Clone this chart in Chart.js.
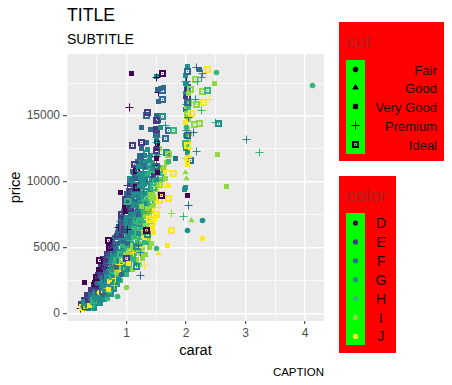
<!DOCTYPE html>
<html>
<head>
<meta charset="utf-8">
<script src="https://cdn.jsdelivr.net/npm/chart.js@4/dist/chart.umd.min.js"></script>
<style>
html, body { margin: 0; padding: 0; background: #fff; }
canvas { display: block; }
</style>
</head>
<body>
<canvas id="diamondChart" width="452" height="385"></canvas>
<script>
const cutLabels = ['Fair', 'Good', 'Very Good', 'Premium', 'Ideal'];
const colorLabels = ['D', 'E', 'F', 'G', 'H', 'I', 'J'];
const xTickLabels = ['1', '2', '3', '4'];
const yTickLabels = ['0', '5000', '10000', '15000'];
const yBreaks = [0, 2500, 5000, 7500, 10000, 12500, 15000, 17500];

// the packed body of the cloud, all Very Good squares, drawn first
const bodyCarats = [
    .24, .31, .36, .43, .47,
    .22, .29, .37, .42, .51, .56,
    .27, .35, .40, .49, .54, .63, .68,
    .33, .39, .48, .53, .62, .67, .74,
    .40, .47, .52, .61, .66, .75, .80,
    .44, .50, .59, .64, .73, .78, .85,
    .48, .56, .61, .70, .75, .84, .90,
    .51, .57, .66, .71, .80, .85, .94, 1.00,
    .54, .62, .67, .76, .81, .90, .95, 1.04, 1.10,
    .57, .63, .72, .77, .86, .91, 1.00, 1.05, 1.15, 1.22,
    .60, .68, .73, .82, .87, .96, 1.01, 1.10, 1.16, 1.27,
    .66, .72, .81, .86, .95, 1.00, 1.09, 1.14, 1.24, 1.32,
    .71, .79, .84, .93, .98, 1.07, 1.12, 1.21, 1.27, 1.38,
    .75, .81, .90, .95, 1.04, 1.09, 1.18, 1.23, 1.33, 1.42,
    .80, .88, .93, 1.02, 1.07, 1.16, 1.21, 1.31, 1.37, 1.46,
    .85, .91, 1.00, 1.05, 1.14, 1.19, 1.28, 1.34, 1.43,
    .87, .95, 1.00, 1.09, 1.14, 1.23, 1.28, 1.38, 1.45,
    .90, .96, 1.05, 1.10, 1.19, 1.24, 1.34, 1.40, 1.49,
    .93, 1.01, 1.06, 1.15, 1.20, 1.29, 1.35, 1.44,
    .95, 1.01, 1.10, 1.15, 1.24, 1.29, 1.39, 1.46,
    .97, 1.05, 1.10, 1.19, 1.24, 1.33, 1.39, 1.50,
    1.00, 1.06, 1.15, 1.20, 1.29, 1.35, 1.44,
    1.02, 1.10, 1.15, 1.24, 1.29, 1.39, 1.50,
    1.04, 1.11, 1.21, 1.27, 1.37, 1.50, 1.58,
    1.06, 1.14, 1.22, 1.30, 1.40, 1.50, 1.60,
    1.08, 1.16, 1.24, 1.32, 1.42, 1.52, 1.62,
    1.12, 1.20, 1.28, 1.36, 1.45, 1.53, 1.64,
    1.15, 1.22, 1.30, 1.38, 1.50, 1.60, 1.68,
    1.18, 1.26, 1.34, 1.44, 1.52,
    1.22, 1.30, 1.40, 1.51, 1.55,
    1.26, 1.35, 1.50, 1.52,
    1.33, 1.50, 1.52,
    1.50, 1.51, 1.40,
    1.50, 1.51,
    // the column at two carats
    2.00, 2.01, 2.00, 2.02, 2.00, 2.01, 2.00, 2.02, 2.00, 2.01, 2.00, 2.02, 2.01,
    2.05, 2.06, 2.05, 2.07
];
const bodyPrices = [
    400, 430, 380, 420, 390,
    750, 780, 720, 770, 730, 760,
    1100, 1070, 1130, 1080, 1120, 1070, 1110,
    1450, 1480, 1430, 1470, 1420, 1460, 1440,
    1800, 1770, 1830, 1780, 1820, 1760, 1810,
    2200, 2170, 2230, 2180, 2220, 2160, 2210,
    2550, 2590, 2530, 2580, 2520, 2570, 2540,
    2950, 2920, 2980, 2930, 2970, 2910, 2960, 2940,
    3350, 3380, 3320, 3370, 3330, 3390, 3340, 3360, 3310,
    3750, 3720, 3780, 3730, 3770, 3710, 3760, 3740, 3790, 3700,
    4150, 4180, 4120, 4170, 4130, 4190, 4140, 4160, 4110, 4200,
    4550, 4520, 4580, 4530, 4570, 4510, 4560, 4540, 4590, 4500,
    4950, 4980, 4920, 4970, 4930, 4990, 4940, 4960, 4910, 5000,
    5350, 5320, 5380, 5330, 5370, 5310, 5360, 5340, 5390, 5300,
    5750, 5780, 5720, 5770, 5730, 5790, 5740, 5760, 5710,
    6150, 6120, 6180, 6130, 6170, 6110, 6160, 6140, 6190,
    6550, 6580, 6520, 6570, 6530, 6590, 6540, 6560, 6510,
    6950, 6920, 6980, 6930, 6970, 6910, 6960, 6940, 6990,
    7350, 7380, 7320, 7370, 7330, 7390, 7340, 7360,
    7750, 7720, 7780, 7730, 7770, 7710, 7760, 7740,
    8150, 8180, 8120, 8170, 8130, 8190, 8140, 8160,
    8550, 8520, 8580, 8530, 8570, 8510, 8560,
    8950, 8980, 8920, 8970, 8930, 8990, 8940,
    9400, 9370, 9430, 9380, 9420, 9360, 9410,
    9800, 9830, 9770, 9820, 9780, 9840, 9790,
    10200, 10170, 10230, 10180, 10220, 10160, 10210,
    10650, 10680, 10620, 10670, 10630, 10690, 10640,
    11100, 11070, 11130, 11080, 11120, 11060, 11110,
    11500, 11530, 11470, 11520, 11480,
    12000, 11970, 12030, 11980, 12020,
    12500, 12530, 12470, 12520,
    13000, 12970, 13030,
    13500, 13530, 13470,
    14000, 14030,
    // the column at two carats
    18000, 17500, 17000, 16500, 16000, 15500, 15000, 14500, 14000, 13500, 13000, 12500, 12000,
    15700, 14700, 13700, 12700
];
const bodyColors = [
    2, 3, 2, 3, 3,
    1, 2, 3, 2, 3, 3,
    1, 2, 3, 2, 3, 3, 4,
    1, 2, 3, 3, 2, 3, 3,
    1, 2, 2, 3, 3, 2, 3,
    0, 1, 2, 3, 2, 3, 3,
    1, 1, 2, 2, 3, 3, 4,
    1, 1, 2, 3, 3, 4, 3, 4,
    1, 1, 2, 3, 2, 3, 4, 3, 5,
    1, 1, 2, 2, 3, 3, 3, 4, 3, 5,
    1, 2, 2, 3, 3, 4, 3, 4, 5, 5,
    1, 1, 2, 2, 3, 3, 4, 4, 5, 5,
    1, 2, 2, 3, 3, 3, 4, 4, 5, 5,
    2, 2, 2, 3, 3, 3, 4, 5, 4, 5,
    2, 2, 3, 3, 3, 3, 4, 4, 5, 6,
    2, 2, 3, 3, 3, 4, 3, 5, 6,
    2, 2, 3, 3, 3, 4, 4, 5, 6,
    1, 2, 2, 3, 3, 3, 4, 5, 6,
    2, 2, 3, 3, 3, 4, 5, 6,
    2, 3, 2, 3, 3, 4, 4, 6,
    2, 2, 3, 3, 4, 4, 5, 6,
    2, 3, 3, 2, 4, 4, 5,
    2, 2, 3, 3, 4, 5, 6,
    2, 3, 3, 4, 4, 6, 6,
    1, 2, 3, 3, 4, 5, 5,
    2, 2, 3, 3, 4, 5, 6,
    2, 3, 3, 4, 4, 5, 5,
    2, 3, 3, 4, 5, 5, 5,
    2, 3, 3, 4, 5,
    2, 2, 3, 4, 5,
    2, 3, 0, 4,
    2, 1, 3,
    2, 3, 2,
    1, 3,
    // the column at two carats
    3, 3, 1, 5, 2, 5, 3, 6, 4, 5, 3, 6, 5,
    5, 5, 6, 5
];

// one row per line, the four arrays line up row by row
// cut: 0 Fair, 1 Good, 2 Very Good, 3 Premium, 4 Ideal / color: 0 D ... 6 J
const carats = [
    .23, .25, .26, .28, .30, .31, .30, .32, .33, .35,
    .27, .29, .31, .33, .34, .36, .38, .40, .41, .42,
    .30, .35, .37, .39, .43, .44, .45, .47, .48, .50,
    .46, .50, .52, .55, .58, .60, .62, .65, .68, .72,
    .45, .48, .52, .56, .60, .64, .68, .72, .76, .80,
    .50, .54, .58, .62, .66, .70, .74, .78, .82, .86,
    .56, .60, .64, .68, .72, .76, .80, .84, .88, .92,
    .60, .64, .68, .72, .76, .80, .84, .88, .92, .96,
    .65, .70, .74, .78, .82, .86, .90, .94, .98, 1.02,
    .70, .74, .78, .82, .86, .90, .94, .98, 1.04, 1.10,
    .72, .78, .82, .86, .90, .94, 1.00, 1.06, 1.12, 1.20,
    .76, .80, .84, .90, .95, 1.00, 1.05, 1.10, 1.16, 1.24,
    .84, .88, .92, .98, 1.02, 1.08, 1.12, 1.18, 1.24, 1.30,
    .86, .92, .96, 1.02, 1.06, 1.12, 1.18, 1.24, 1.30, 1.36,
    .90, .94, 1.00, 1.04, 1.10, 1.16, 1.22, 1.28, 1.34, 1.42,
    .92, .98, 1.04, 1.08, 1.14, 1.20, 1.26, 1.32, 1.38, 1.46,
    .96, 1.00, 1.06, 1.12, 1.18, 1.24, 1.30, 1.36, 1.42, 1.50,
    .98, 1.04, 1.10, 1.16, 1.22, 1.28, 1.34, 1.40, 1.46, 1.54,
    1.00, 1.06, 1.12, 1.18, 1.24, 1.30, 1.36, 1.42, 1.50, 1.56,
    1.02, 1.10, 1.16, 1.22, 1.28, 1.34, 1.40, 1.46, 1.52, 1.60,
    1.06, 1.14, 1.20, 1.26, 1.32, 1.38, 1.44, 1.50, 1.56, 1.64,
    1.10, 1.16, 1.22, 1.28, 1.34, 1.40, 1.46, 1.52, 1.58, 1.66,
    1.14, 1.20, 1.26, 1.32, 1.38, 1.44, 1.50, 1.56, 1.62, 1.68,
    1.50, 1.51, 1.52, 1.50, 1.51, 1.52, 1.53, 1.50, 1.51, 1.52,
    1.00, 1.01, 1.02, 1.00, 1.01, 1.20, 1.21, 1.22, 1.25, 1.23,
    2.00, 2.01, 2.02, 2.00, 2.03, 2.01, 2.04, 2.02, 2.05, 2.00,
    2.01, 2.03, 2.05, 2.00, 2.06, 2.02, 2.01, 2.08, 2.03, 2.10,
    // outliers and sparse points
    1.08, 1.61, 1.51, 1.05, 1.53, 1.52, 1.57, 1.62, 1.60, 1.53,
    1.61, 1.34, 1.36, 1.51, 1.61, 1.51, 1.51, 1.25, 1.58, 1.65,
    1.70, 1.79, 1.65, 1.10, 1.25, 1.51, 1.33, 1.23, 1.50, 1.39,
    1.68, 1.70, 1.83, 1.71, 2.02, 2.02, 2.22, 2.18, 2.36, 2.51,
    2.27, 2.26, 2.48, 4.12, 2.00, 2.01, 2.16, 2.19, 2.01, 2.08,
    2.04, 2.27, 2.36, 2.16, 2.40, 2.30, 2.18, 2.03, 2.26, 2.10,
    2.49, 2.54, 2.22, 2.15, 2.01, 2.13, 3.01, 3.24, 2.02, 2.18,
    2.53, 2.06, 2.01, 2.00, 2.01, 2.68, 1.99, 1.79, 1.70, 2.02,
    .90, 2.28, 2.28, 2.02, 1.69, 1.50, 1.54, 1.76, 1.70, 1.31,
    1.31, 1.23, .29, .53, .70, .54, 1.00, .85, .70, .90,
    1.16, 1.04, 1.59, 1.34, 1.97, 2.09, 2.05, 1.75, 1.95, 1.44
];
const prices = [
    380, 420, 480, 520, 560, 600, 470, 640, 700, 760,
    650, 720, 540, 820, 620, 900, 780, 980, 720, 1050,
    840, 1000, 620, 1120, 860, 1240, 960, 1320, 1080, 1420,
    1650, 1500, 1850, 1600, 1950, 1700, 2050, 1750, 1900, 1650,
    2050, 2300, 2250, 2450, 2300, 2550, 2350, 2400, 2200, 2100,
    2700, 2850, 2700, 3000, 2800, 3000, 2750, 2900, 2650, 2550,
    3150, 3400, 3200, 3500, 3300, 3200, 3450, 3100, 3300, 2950,
    3600, 3800, 3700, 3950, 3650, 3850, 3600, 3750, 3500, 3400,
    4050, 4250, 4100, 4350, 4150, 4000, 4300, 4100, 3950, 3800,
    4500, 4700, 4550, 4800, 4600, 4450, 4750, 4500, 4350, 4200,
    5000, 5150, 4950, 5250, 5050, 5200, 4900, 4700, 4600, 4700,
    5400, 5600, 5450, 5700, 5500, 5650, 5350, 5200, 5100, 5000,
    5950, 6150, 5900, 6100, 5800, 6050, 5750, 5650, 5500, 5800,
    6500, 6650, 6350, 6550, 6300, 6500, 6250, 6100, 6300, 6000,
    7050, 7250, 6950, 7150, 6850, 7050, 6750, 6950, 6600, 6500,
    7550, 7750, 7450, 7650, 7350, 7550, 7250, 7450, 7150, 7050,
    8100, 8300, 8000, 8200, 7900, 8100, 7800, 7950, 7650, 7500,
    8650, 8800, 8550, 8700, 8450, 8600, 8350, 8500, 8200, 8050,
    9150, 9300, 9050, 9250, 8950, 9100, 8850, 9000, 8750, 8600,
    9700, 9850, 9600, 9750, 9500, 9650, 9400, 9550, 9250, 9100,
    10200, 10350, 10100, 10250, 10000, 10150, 9950, 10050, 9800, 9650,
    10750, 10900, 10650, 10800, 10550, 10700, 10450, 10600, 10350, 10250,
    11300, 11200, 11400, 11150, 11300, 11050, 11250, 10950, 11100, 10850,
    11900, 12400, 12900, 13400, 11200, 10700, 12100, 13700, 10200, 14700,
    4200, 5300, 6400, 7300, 8500, 6100, 5200, 7000, 8100, 4600,
    18050, 17600, 17200, 16700, 16400, 15900, 15600, 15100, 14900, 14500,
    13900, 13500, 13100, 12900, 12500, 12200, 11800, 11600, 11300, 16000,
    // outliers and sparse points
    18270, 18270, 17920, 15670, 16760, 17040, 17100, 17200, 16950, 16100,
    16220, 15030, 15260, 15010, 14990, 14650, 13950, 14150, 14100, 14300,
    13870, 13890, 13290, 12750, 12980, 12960, 12170, 11920, 11800, 11590,
    12250, 12050, 11790, 11540, 18760, 18350, 18500, 18680, 18500, 18330,
    18250, 17950, 17490, 17340, 17620, 17420, 17750, 17620, 16990, 17040,
    16680, 16890, 16910, 16280, 16280, 16020, 15850, 16020, 15410, 15160,
    14530, 14400, 14400, 14380, 14150, 13770, 13190, 12250, 12800, 12300,
    12100, 11920, 11670, 10700, 10280, 9670, 9560, 10630, 9690, 9000,
    9210, 7080, 5710, 6320, 5180, 4950, 4570, 7610, 8700, 3660,
    4320, 2870, 2370, 3360, 5530, 4010, 1990, 1310, 1790, 6980,
    3560, 3820, 8930, 6290, 9390, 7050, 8200, 6300, 7400, 8800
];
const cutCodes = [
    3, 2, 4, 2, 3, 4, 2, 2, 4, 2,
    2, 2, 2, 4, 2, 2, 3, 2, 4, 2,
    4, 2, 2, 2, 0, 2, 4, 2, 3, 2,
    2, 4, 2, 0, 2, 4, 2, 2, 3, 0,
    2, 4, 2, 2, 3, 2, 4, 2, 0, 3,
    4, 2, 2, 3, 2, 4, 2, 2, 3, 2,
    2, 4, 2, 3, 2, 2, 4, 2, 3, 0,
    4, 2, 3, 2, 4, 2, 2, 3, 2, 4,
    2, 3, 2, 4, 2, 2, 3, 4, 2, 0,
    3, 2, 4, 2, 2, 4, 3, 2, 2, 4,
    4, 2, 2, 3, 4, 2, 2, 4, 3, 2,
    2, 3, 4, 2, 2, 3, 4, 2, 4, 3,
    2, 4, 2, 3, 2, 4, 2, 3, 4, 2,
    3, 2, 4, 2, 3, 2, 4, 2, 3, 4,
    2, 4, 2, 3, 2, 4, 2, 3, 4, 2,
    4, 2, 3, 2, 4, 2, 3, 2, 4, 3,
    2, 3, 4, 2, 3, 2, 4, 2, 3, 4,
    4, 2, 3, 4, 2, 3, 2, 4, 2, 3,
    2, 4, 2, 3, 4, 2, 3, 4, 2, 4,
    3, 2, 4, 2, 3, 4, 2, 4, 3, 2,
    4, 2, 3, 4, 2, 4, 3, 2, 4, 3,
    2, 4, 2, 3, 4, 2, 2, 3, 4, 2,
    4, 2, 3, 2, 4, 2, 3, 4, 2, 3,
    3, 4, 2, 3, 4, 2, 3, 4, 2, 4,
    4, 2, 3, 2, 4, 2, 3, 4, 2, 3,
    2, 3, 4, 2, 4, 3, 2, 4, 3, 2,
    3, 4, 2, 4, 3, 2, 3, 4, 2, 3,
    // outliers and sparse points
    2, 4, 3, 3, 3, 2, 2, 2, 4, 2,
    4, 4, 4, 2, 4, 4, 4, 2, 2, 3,
    4, 4, 4, 4, 4, 3, 4, 4, 2, 2,
    4, 4, 2, 2, 2, 4, 2, 3, 4, 0,
    3, 3, 2, 0, 3, 2, 4, 3, 2, 4,
    2, 4, 4, 3, 3, 4, 4, 4, 3, 4,
    3, 4, 4, 4, 0, 3, 3, 3, 4, 3,
    2, 1, 1, 1, 1, 2, 2, 4, 2, 2,
    2, 0, 0, 0, 2, 0, 1, 3, 4, 3,
    3, 3, 2, 2, 4, 4, 0, 0, 2, 3,
    4, 2, 4, 4, 2, 1, 3, 4, 3, 4
];
const colorCodes = [
    0, 2, 6, 3, 0, 3, 1, 3, 2, 3,
    1, 2, 5, 3, 2, 3, 3, 2, 4, 3,
    3, 1, 6, 2, 3, 3, 4, 3, 3, 1,
    2, 3, 1, 6, 3, 2, 3, 3, 5, 4,
    1, 0, 2, 3, 3, 2, 3, 6, 3, 5,
    0, 1, 2, 1, 3, 3, 4, 3, 6, 3,
    1, 0, 2, 0, 3, 4, 3, 5, 6, 2,
    1, 2, 1, 3, 3, 4, 2, 6, 5, 3,
    1, 2, 3, 3, 4, 3, 3, 5, 6, 4,
    2, 1, 3, 2, 3, 4, 3, 5, 6, 4,
    0, 1, 2, 3, 3, 4, 4, 5, 6, 5,
    1, 0, 2, 3, 2, 3, 4, 5, 3, 6,
    1, 2, 1, 3, 3, 3, 4, 5, 4, 6,
    0, 2, 1, 3, 3, 4, 4, 5, 6, 3,
    1, 2, 3, 2, 3, 4, 3, 4, 5, 6,
    1, 0, 2, 3, 3, 2, 4, 5, 6, 6,
    0, 2, 1, 3, 2, 3, 4, 5, 5, 6,
    1, 2, 3, 2, 3, 4, 3, 4, 5, 6,
    2, 1, 3, 2, 3, 3, 4, 5, 6, 6,
    1, 2, 0, 3, 2, 3, 3, 4, 5, 6,
    3, 2, 1, 3, 3, 2, 4, 4, 5, 6,
    2, 0, 3, 2, 3, 4, 1, 3, 4, 5,
    1, 3, 2, 2, 3, 3, 0, 4, 5, 6,
    2, 1, 0, 3, 2, 0, 3, 2, 3, 1,
    1, 2, 0, 3, 4, 3, 2, 4, 5, 3,
    3, 0, 2, 3, 1, 3, 4, 5, 2, 6,
    3, 2, 5, 4, 6, 3, 5, 2, 6, 5,
    // outliers and sparse points
    0, 0, 0, 0, 0, 2, 2, 2, 2, 2,
    2, 2, 1, 2, 3, 1, 1, 2, 3, 3,
    2, 4, 2, 1, 1, 3, 3, 2, 0, 3,
    3, 5, 2, 4, 3, 2, 2, 2, 6, 4,
    3, 3, 5, 4, 3, 3, 5, 4, 1, 5,
    5, 5, 4, 3, 6, 6, 5, 2, 4, 6,
    4, 3, 5, 5, 4, 2, 3, 4, 6, 3,
    5, 6, 6, 5, 5, 5, 3, 6, 6, 0,
    0, 3, 6, 3, 6, 4, 6, 5, 6, 6,
    5, 2, 0, 0, 0, 0, 5, 4, 6, 2,
    3, 6, 0, 0, 3, 5, 2, 6, 4, 5
];

const viridis = ['#440154', '#443A83', '#31688E', '#21908C', '#35B779', '#8FD744', '#FDE725'];
const cutStyles = ['circle', 'triangle', 'rect', 'cross', null];
const cutRadius = [2.8, 3.6, 3.54, 4, 4];
const fontFamily = '"Liberation Sans", Arial, sans-serif';

// Ideal: thick square frame with a dot in the hole, not a built in point style
function boxedDot(color) {
    const c = document.createElement('canvas');
    c.width = 7;
    c.height = 7;
    const g = c.getContext('2d');
    g.fillStyle = color;
    g.fillRect(0, 0, 7, 7);
    g.clearRect(2, 2, 3, 3);
    g.fillRect(3, 3, 1, 1);
    return c;
}
const boxedSprites = viridis.map(boxedDot);
const legendBoxed = boxedDot('#000');

const bodyPoints = bodyCarats.map((x, i) => ({ x: x, y: bodyPrices[i], cut: 2, color: bodyColors[i] }));
const topPoints = carats.map((x, i) => ({ x: x, y: prices[i], cut: cutCodes[i], color: colorCodes[i] }));
const points = bodyPoints.concat(topPoints);

const panelAndLegends = {
    id: 'panelAndLegends',
    beforeDraw(chart) {
        const { ctx, chartArea: a } = chart;
        ctx.save();
        ctx.fillStyle = '#fff';
        ctx.fillRect(0, 0, chart.width, chart.height);
        ctx.fillStyle = '#ebebeb';
        ctx.fillRect(a.left, a.top, a.right - a.left, a.bottom - a.top);
        ctx.restore();
    },
    beforeDatasetsDraw(chart) {
        // the reference marks sit on the pixel grid, no soft edges
        chart.getDatasetMeta(0).data.forEach(pt => {
            pt.x = Math.floor(pt.x) + 0.5;
            pt.y = Math.floor(pt.y) + 0.5;
        });
    },
    afterDraw(chart) {
        const ctx = chart.ctx;
        ctx.save();

        // caption
        ctx.fillStyle = '#000';
        ctx.font = '11.5px ' + fontFamily;
        ctx.textAlign = 'right';
        ctx.textBaseline = 'alphabetic';
        ctx.fillText('CAPTION', 324, 376);

        // cut legend
        ctx.fillStyle = '#ff0000';
        ctx.fillRect(339, 22, 105, 139);
        ctx.fillStyle = '#00ff00';
        ctx.fillRect(346, 60, 19, 94);
        ctx.fillStyle = '#ab2020';
        ctx.font = '18.7px ' + fontFamily;
        ctx.textAlign = 'left';
        ctx.fillText('cut', 346, 48);
        ctx.font = '13px ' + fontFamily;
        ctx.textAlign = 'right';
        cutLabels.forEach((label, i) => {
            const y = Math.floor(69 + i * 18.9) + 0.5;
            ctx.fillStyle = '#000';
            ctx.strokeStyle = '#000';
            ctx.lineWidth = 1;
            Chart.helpers.drawPoint(ctx, {
                pointStyle: cutStyles[i] || legendBoxed,
                radius: i === 3 ? 4 : cutRadius[i] * 0.85,
                borderWidth: 1
            }, 355.5, y);
            ctx.fillStyle = '#200000';
            ctx.fillText(label, 437, y + 5);
        });

        // color legend
        ctx.fillStyle = '#ff0000';
        ctx.fillRect(339, 176, 57, 177);
        ctx.fillStyle = '#00ff00';
        ctx.fillRect(346, 213, 19, 132);
        ctx.fillStyle = '#ab2020';
        ctx.font = '18.7px ' + fontFamily;
        ctx.textAlign = 'left';
        ctx.fillText('color', 346, 202);
        ctx.font = '14px ' + fontFamily;
        ctx.textAlign = 'center';
        colorLabels.forEach((label, i) => {
            const y = 223 + i * 18.9;
            ctx.fillStyle = viridis[i];
            ctx.beginPath();
            ctx.arc(355.5, y, 2.6, 0, Math.PI * 2);
            ctx.fill();
            ctx.fillStyle = '#200000';
            ctx.fillText(label, 381, y + 5);
        });
        ctx.restore();
    }
};

function renderDiamondChart() {
    const canvas = document.getElementById('diamondChart');
    if (!canvas) return;

    new Chart(canvas.getContext('2d', { alpha: false }), {
        type: 'scatter',
        data: {
            datasets: [{
                data: points,
                pointStyle: c => cutStyles[c.raw.cut] || boxedSprites[c.raw.color],
                radius: c => cutRadius[c.raw.cut],
                backgroundColor: c => viridis[c.raw.color],
                borderColor: c => viridis[c.raw.color],
                borderWidth: c => (c.raw.cut === 3 ? 1 : 0)
            }]
        },
        plugins: [panelAndLegends],
        options: {
            responsive: false,
            animation: false,
            events: [],
            layout: {
                padding: { left: 0, right: 128, top: 0, bottom: 0 }
            },
            plugins: {
                legend: { display: false },
                tooltip: { enabled: false },
                title: {
                    display: true,
                    text: 'TITLE',
                    align: 'start',
                    fullSize: false,
                    color: '#000',
                    font: { family: fontFamily, size: 17.6, weight: 'normal', lineHeight: 1.2 },
                    padding: { top: 6, bottom: 3 }
                },
                subtitle: {
                    display: true,
                    text: 'SUBTITLE',
                    align: 'start',
                    fullSize: false,
                    color: '#000',
                    font: { family: fontFamily, size: 14, weight: 'normal', lineHeight: 1.2 },
                    padding: { top: 2, bottom: 5 }
                }
            },
            scales: {
                x: {
                    type: 'linear',
                    min: 0,
                    max: 4.32,
                    afterFit: scale => { scale.height = 64; },
                    border: { display: false },
                    grid: {
                        color: '#fff',
                        lineWidth: c => (Number.isInteger(c.tick.value) ? 1.4 : 0.7),
                        tickColor: c => (c.tick.value > 0 && Number.isInteger(c.tick.value) ? '#333' : 'rgba(0,0,0,0)'),
                        tickWidth: 1,
                        tickLength: 3
                    },
                    ticks: {
                        stepSize: 0.5,
                        includeBounds: false,
                        autoSkip: false,
                        maxRotation: 0,
                        padding: 2,
                        color: '#4d4d4d',
                        font: { family: fontFamily, size: 12 },
                        callback: value => (xTickLabels.includes(String(value)) ? String(value) : '')
                    },
                    title: {
                        display: true,
                        text: 'carat',
                        color: '#000',
                        font: { family: fontFamily, size: 14.67 },
                        padding: { top: 0, bottom: 25 }
                    }
                },
                y: {
                    type: 'linear',
                    min: -570,
                    max: 19720,
                    afterFit: scale => { scale.width = 67; },
                    afterBuildTicks: scale => { scale.ticks = yBreaks.map(v => ({ value: v })); },
                    border: { display: false },
                    grid: {
                        color: '#fff',
                        lineWidth: c => (c.tick.value % 5000 === 0 ? 1.4 : 0.7),
                        tickColor: c => (c.tick.value % 5000 === 0 ? '#333' : 'rgba(0,0,0,0)'),
                        tickWidth: 1,
                        tickLength: 4
                    },
                    ticks: {
                        autoSkip: false,
                        padding: 3,
                        color: '#4d4d4d',
                        font: { family: fontFamily, size: 12 },
                        callback: value => (yTickLabels.includes(String(value)) ? String(value) : '')
                    },
                    title: {
                        display: true,
                        text: 'price',
                        color: '#000',
                        font: { family: fontFamily, size: 14.67 },
                        padding: { top: 7, bottom: 7 }
                    }
                }
            }
        }
    });
}

renderDiamondChart();
</script>
</body>
</html>
